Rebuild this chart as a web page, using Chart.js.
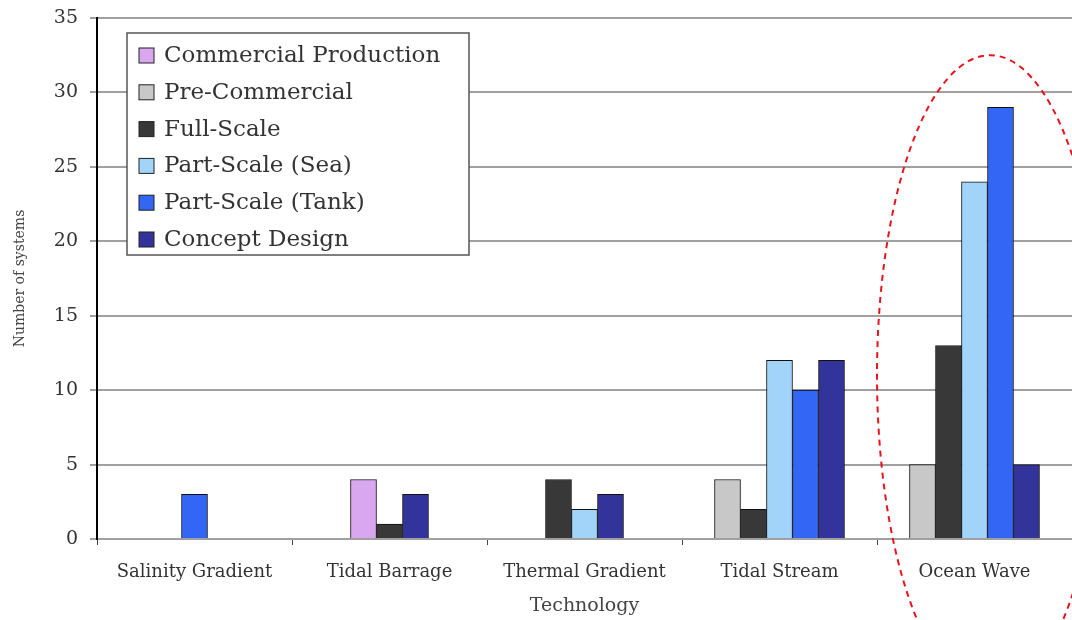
<!DOCTYPE html>
<html>
<head>
<meta charset="utf-8">
<script src="https://cdn.jsdelivr.net/npm/chart.js@4/dist/chart.umd.min.js"></script>
<style>
  html, body { margin: 0; padding: 0; background: #ffffff; }
  #wrap { width: 1072px; height: 620px; position: relative; }
</style>
</head>
<body>
<div id="wrap"><canvas id="c" width="1072" height="620"></canvas></div>
<script>
const categories = ['Salinity Gradient', 'Tidal Barrage', 'Thermal Gradient', 'Tidal Stream', 'Ocean Wave'];
const seriesNames = ['Commercial Production', 'Pre-Commercial', 'Full-Scale', 'Part-Scale (Sea)', 'Part-Scale (Tank)', 'Concept Design'];
const commercialProduction = [null, 4, null, null, null];
const preCommercial        = [null, null, null, 4, 5];
const fullScale            = [null, 1, 4, 2, 13];
const partScaleSea         = [null, null, 2, 12, 24];
const partScaleTank        = [3, null, null, 10, 29];
const conceptDesign        = [null, 3, 3, 12, 5];
const yTicks = [0, 5, 10, 15, 20, 25, 30, 35];

const seriesValues = [commercialProduction, preCommercial, fullScale, partScaleSea, partScaleTank, conceptDesign];
const seriesColors = ['#d9a6f0', '#c8c8c8', '#383838', '#a2d4fa', '#3366f5', '#33339c'];

const SERIF = "'DejaVu Serif', 'Liberation Serif', serif";

const boxedLegend = {
  id: 'boxedLegend',
  afterDraw(chart) {
    const ctx = chart.ctx;
    const a = chart.chartArea;
    const x0 = a.left + 30, y0 = a.top + 15, w = 342, h = 222;
    ctx.save();
    ctx.fillStyle = '#ffffff';
    ctx.fillRect(x0, y0, w, h);
    ctx.strokeStyle = '#555555';
    ctx.lineWidth = 1.5;
    ctx.strokeRect(x0, y0, w, h);
    ctx.font = "23px " + SERIF;
    ctx.textBaseline = 'middle';
    ctx.textAlign = 'left';
    chart.data.datasets.forEach((ds, i) => {
      const cy = y0 + 22 + i * 36.8;
      ctx.fillStyle = ds.backgroundColor;
      ctx.fillRect(x0 + 12, cy - 7, 15, 15);
      ctx.strokeStyle = '#222';
      ctx.lineWidth = 1;
      ctx.strokeRect(x0 + 12, cy - 7, 15, 15);
      ctx.fillStyle = '#333333';
      ctx.fillText(ds.label, x0 + 37, cy + 1);
    });
    ctx.restore();
  }
};

const highlightEllipse = {
  id: 'highlightEllipse',
  afterDraw(chart) {
    const xs = chart.scales.x, ys = chart.scales.y;
    const idx = categories.length - 1;
    const cw = xs.getPixelForValue(1) - xs.getPixelForValue(0);
    const cx = xs.getPixelForValue(idx) + cw * 0.08;
    const cy = ys.getPixelForValue(11.0);
    const rx = cw * 0.58;
    const ry = cy - ys.getPixelForValue(32.5);
    const ctx = chart.ctx;
    ctx.save();
    ctx.strokeStyle = '#e8141c';
    ctx.lineWidth = 2;
    ctx.setLineDash([6, 5]);
    ctx.beginPath();
    ctx.ellipse(cx, cy, rx, ry, 0, 0, Math.PI * 2);
    ctx.stroke();
    ctx.restore();
  }
};

new Chart(document.getElementById('c'), {
  type: 'bar',
  data: {
    labels: categories,
    datasets: seriesNames.map((name, i) => ({
      label: name,
      data: seriesValues[i],
      backgroundColor: seriesColors[i],
      borderColor: '#111111',
      borderWidth: 1,
      barThickness: 26,
      skipNull: true
    }))
  },
  options: {
    responsive: false,
    animation: false,
    devicePixelRatio: 1,
    layout: { padding: { top: 18, right: 0, bottom: 0, left: 0 } },
    plugins: {
      legend: { display: false },
      tooltip: { enabled: false }
    },
    scales: {
      x: {
        offset: true,
        grid: { display: true, drawOnChartArea: false, drawTicks: true, tickLength: 6, color: '#444444', lineWidth: 1, offset: true },
        border: { display: true, color: '#a0a0a0', width: 2 },
        ticks: { color: '#333333', font: { family: SERIF, size: 18 }, padding: 17, maxRotation: 0 },
        title: { display: true, text: 'Technology', color: '#444444', font: { family: SERIF, size: 19 }, padding: { top: 2, bottom: 3 } },
        afterFit(scale) { scale.height = 81; }
      },
      y: {
        min: 0,
        max: 35,
        afterBuildTicks(scale) { scale.ticks = yTicks.map(v => ({ value: v })); },
        grid: { color: '#a0a0a0', lineWidth: 2, tickLength: 7, drawTicks: true },
        border: { display: true, color: '#000000', width: 2 },
        ticks: { color: '#333333', font: { family: SERIF, size: 19 }, padding: 12 },
        title: { display: true, text: 'Number of systems', color: '#444444', font: { family: SERIF, size: 14 }, padding: { top: 12, bottom: 4 } },
        afterFit(scale) { scale.width = 97; scale.paddingTop = 0; scale.paddingBottom = 0; }
      }
    }
  },
  plugins: [boxedLegend, highlightEllipse]
});
</script>
</body>
</html>
